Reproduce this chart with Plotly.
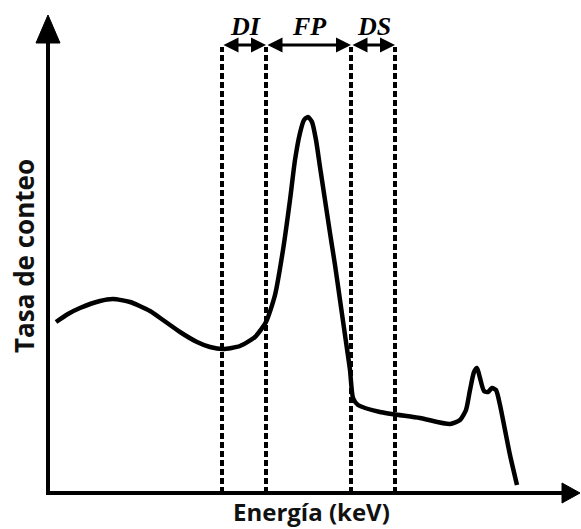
import plotly.graph_objects as go

# Spectrum (arbitrary units)
energy = [8, 20, 32, 52, 65, 82, 102, 115, 132, 149, 162, 175, 192, 207, 218, 227, 235, 242, 247, 252, 256,
          260, 264, 268, 272, 277, 282, 287, 292, 297, 302, 305, 310, 332, 372, 402, 412, 418, 422, 426,
          429, 432, 436, 440, 444, 448, 452, 457, 462, 469]
counts = [171, 179, 185, 192, 194, 191, 182, 173, 161, 151, 146, 144, 147, 156, 171, 198, 243, 293, 333, 360, 373,
          376, 371, 353, 326, 293, 260, 228, 193, 158, 123, 95, 88, 81, 75, 69, 73, 83, 103, 121,
          125, 115, 102, 101, 105, 103, 88, 63, 38, 8]

window_edges = [174, 218, 303, 347]
window_labels = ["DI", "FP", "DS"]
x_title = "Energía (keV)"
y_title = "Tasa de conteo"

fig = go.Figure()
fig.add_trace(go.Scatter(x=energy, y=counts, mode="lines",
                         line=dict(color="black", width=4.5, shape="spline", smoothing=0.6),
                         hoverinfo="skip", showlegend=False))

shapes = []
# axes
shapes.append(dict(type="line", x0=0, y0=-2, x1=0, y1=452, xref="x", yref="y",
                   line=dict(color="black", width=4)))
shapes.append(dict(type="line", x0=0, y0=0, x1=516, y1=0, xref="x", yref="y",
                   line=dict(color="black", width=4)))
shapes.append(dict(type="path", path="M -12 450 L 12 450 L 0 478 Z", xref="x", yref="y",
                   fillcolor="black", line=dict(color="black", width=1)))
shapes.append(dict(type="path", path="M 514 10 L 514 -10 L 532 0 Z", xref="x", yref="y",
                   fillcolor="black", line=dict(color="black", width=1)))
# dashed window lines
for e in window_edges:
    shapes.append(dict(type="line", x0=e, x1=e, y0=0, y1=446, xref="x", yref="y",
                       line=dict(color="black", width=4, dash="6px,3px")))
fig.update_layout(shapes=shapes)

annotations = []
for i, lab in enumerate(window_labels):
    a, b = window_edges[i], window_edges[i + 1]
    annotations.append(dict(x=b, y=448, ax=a, ay=448, xref="x", yref="y", axref="x", ayref="y",
                            text="", showarrow=True, arrowhead=2, arrowside="end+start",
                            arrowsize=1, arrowwidth=3, arrowcolor="black", standoff=0, startstandoff=0))
    annotations.append(dict(x=(a + b) / 2 + 1, y=467, xref="x", yref="y", text="<b><i>%s</i></b>" % lab,
                            showarrow=False, font=dict(family="Liberation Serif", size=26, color="black")))
annotations.append(dict(x=263, y=-18, xref="x", yref="y", text="<b>%s</b>" % x_title, showarrow=False,
                        font=dict(family="Open Sans", size=24, color="#111")))
annotations.append(dict(x=-24, y=237, xref="x", yref="y", text="<b>%s</b>" % y_title, showarrow=False,
                        textangle=-90, font=dict(family="Open Sans", size=26, color="#111")))
fig.update_layout(annotations=annotations)

fig.update_layout(
    width=581, height=529, margin=dict(l=0, r=0, t=0, b=0),
    paper_bgcolor="white", plot_bgcolor="white",
    xaxis=dict(range=[-48, 533], visible=False, fixedrange=True),
    yaxis=dict(range=[-36, 493], visible=False, fixedrange=True),
)
fig.write_html("out.html")
